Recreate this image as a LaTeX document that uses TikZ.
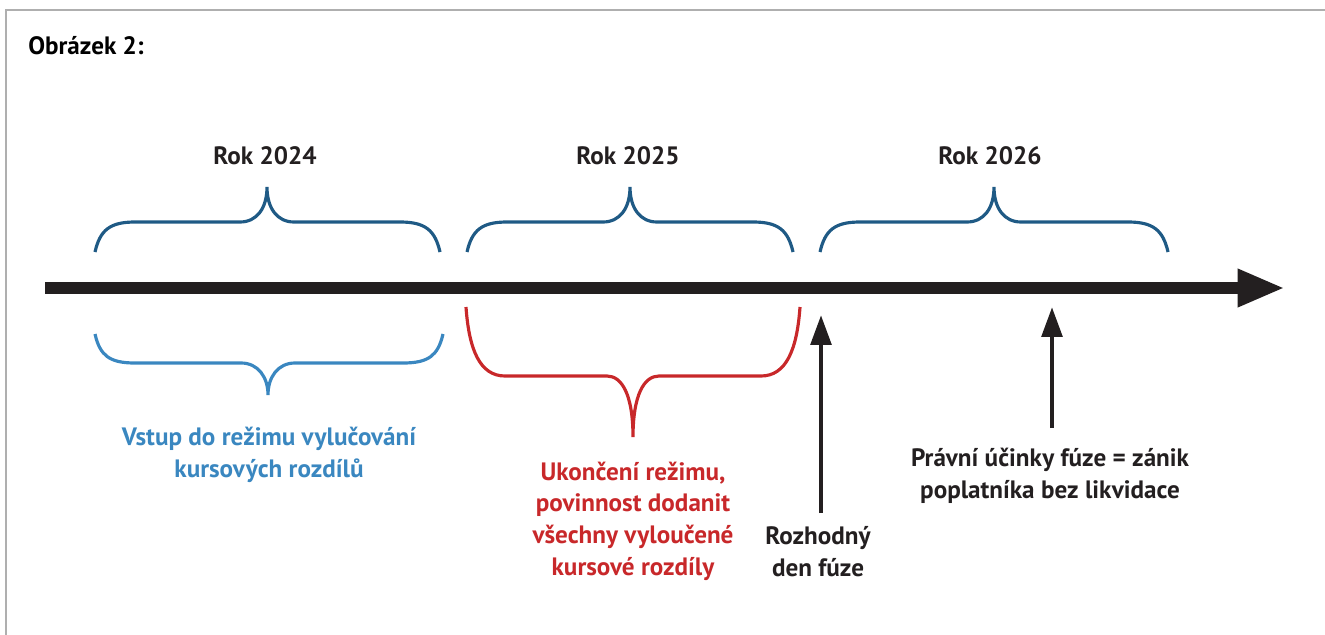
\documentclass[tikz,border=0pt]{standalone}
\usepackage{fontspec}
\setmainfont{PT Sans}
\usetikzlibrary{arrows.meta, positioning}
\definecolor{bracedark}{RGB}{31, 90, 133}
\definecolor{bracelight}{RGB}{58, 135, 192}
\definecolor{endred}{RGB}{200, 40, 42}
\definecolor{axisblack}{RGB}{35, 31, 32}
\definecolor{framegray}{RGB}{175, 175, 175}

\begin{document}
\begin{tikzpicture}[x=0.02cm, y=-0.02cm,
  lbl/.style={font=\fontsize{14.3}{18}\selectfont\bfseries, inner sep=0pt, align=center, anchor=base},
  brace/.style={line width=1.8pt, line cap=butt},
  uparrow/.style={axisblack, line width=2.8pt, -{Triangle[length=17pt, width=11.5pt]}},
]
\useasboundingbox (0,0) rectangle (1325,635);
% frame
\draw[framegray, line width=0.9pt] (6,635) -- (6,10) -- (1325,10);
\node[lbl, anchor=base west] (title) at (28,55) {Obrázek 2:};

% years above the axis
\node[lbl, axisblack] (rok2024) at (265,164) {Rok 2024};
\node[lbl, axisblack] (rok2025) at (628,164) {Rok 2025};
\node[lbl, axisblack] (rok2026) at (990,164) {Rok 2026};
\foreach \l/\c/\r in {95/267/440, 467/630/793, 820/994/1168}
  \draw[brace, bracedark] (\l,252) .. controls (\l+5,230) and (\l+15,222) .. (\l+40,222)
    -- (\c-27,222) .. controls (\c-10,222) and (\c,208) .. (\c,187)
    .. controls (\c,208) and (\c+10,222) .. (\c+27,222)
    -- (\r-40,222) .. controls (\r-15,222) and (\r-5,230) .. (\r,252);

% time axis
\coordinate (axstart) at (45,288);
\coordinate (axend) at (1285,288);
\draw[axisblack, line width=6.8pt, -{Triangle[length=27pt, width=20pt]}] (axstart) -- (axend);

% periods below the axis
\draw[brace, bracelight] (95,334) .. controls (100,356) and (110,363) .. (135,363)
  -- (241,363) .. controls (258,363) and (268,377) .. (268,395)
  .. controls (268,377) and (278,363) .. (295,363)
  -- (403,363) .. controls (428,363) and (438,356) .. (443,334);
\draw[brace, endred] (466,307) .. controls (469,350) and (480,376) .. (505,376)
  -- (607,376) .. controls (622,376) and (633,395) .. (633,437)
  .. controls (633,395) and (644,376) .. (659,376)
  -- (761,376) .. controls (786,376) and (797,350) .. (800,307);
\node[lbl, bracelight] (vstup) at (269,477) {Vstup do režimu vylučování\\kursových rozdílů};
\node[lbl, endred] (ukonceni) at (633,575) {Ukončení režimu,\\povinnost dodanit\\všechny vyloučené\\kursové rozdíly};

% events
\coordinate (rozhodnybot) at (821,513);
\coordinate (rozhodnytip) at (821,315);
\draw[uparrow] (rozhodnybot) -- (rozhodnytip);
\node[lbl, axisblack] (rozhodny) at (818,576) {Rozhodný\\den fúze};
\coordinate (ucinkybot) at (1052,428);
\coordinate (ucinkytip) at (1052,307);
\draw[uparrow] (ucinkybot) -- (ucinkytip);
\node[lbl, axisblack] (ucinky) at (1050,498) {Právní účinky fúze = zánik\\poplatníka bez likvidace};
\end{tikzpicture}
\end{document}
